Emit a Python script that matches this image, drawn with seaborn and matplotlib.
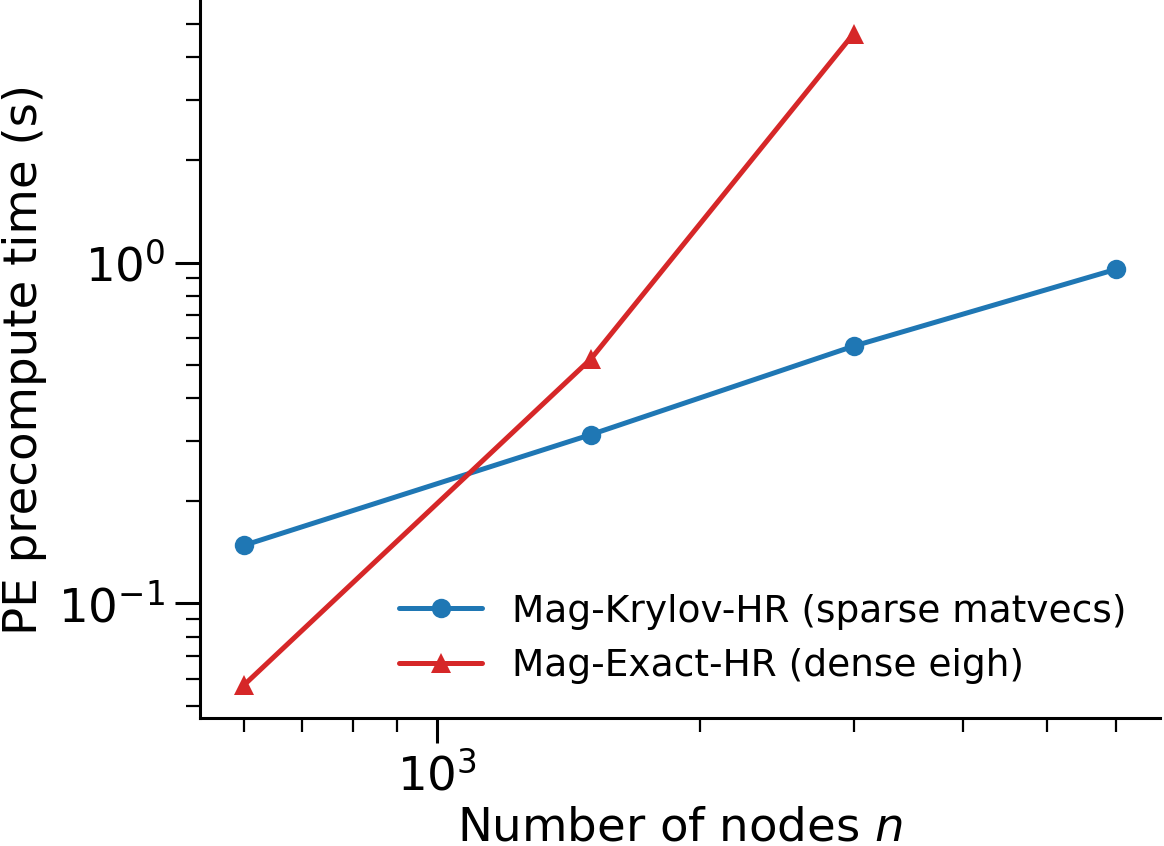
import numpy as np
import pandas as pd
import matplotlib
matplotlib.use('Agg')
import matplotlib.pyplot as plt
import seaborn as sns

# timings
n_krylov = [600, 1500, 3000, 6000]
t_krylov = [0.148, 0.313, 0.569, 0.957]
n_exact = [600, 1500, 3000]
t_exact = [0.0575, 0.522, 4.70]

lab_krylov = 'Mag-Krylov-HR (sparse matvecs)'
lab_exact = 'Mag-Exact-HR (dense eigh)'

df = pd.concat([
    pd.DataFrame({'n': n_krylov, 'time': t_krylov, 'method': lab_krylov}),
    pd.DataFrame({'n': n_exact, 'time': t_exact, 'method': lab_exact}),
], ignore_index=True)

sns.set_style('ticks', rc={'axes.edgecolor': 'black', 'text.color': 'black',
                           'axes.labelcolor': 'black', 'xtick.color': 'black',
                           'ytick.color': 'black'})
plt.rcParams['font.family'] = ['DejaVu Sans']
plt.rcParams['axes.linewidth'] = 1.1

f = plt.figure(figsize=(5.82, 4.23), dpi=200)
ax = f.add_axes([0.1718, 0.1513, 0.8248, 0.8475])

sns.lineplot(data=df, x='n', y='time', hue='method', style='method',
             palette=['tab:blue', 'tab:red'], markers=['o', '^'], dashes=False,
             linewidth=1.8, markersize=7, markeredgewidth=0, ax=ax)

ax.set_xscale('log')
ax.set_yscale('log')
ax.set_xlabel('Number of nodes $n$', fontsize=16.8, labelpad=2)
ax.set_ylabel('PE precompute time (s)', fontsize=16.8)
ax.tick_params(which='major', labelsize=16.8, length=9, width=1.1)
ax.tick_params(which='minor', length=5, width=0.8)
sns.despine(ax=ax)

leg = ax.legend(loc='lower right', frameon=False, fontsize=13.5, handlelength=2.2)

f.savefig('out.png', dpi=200)
